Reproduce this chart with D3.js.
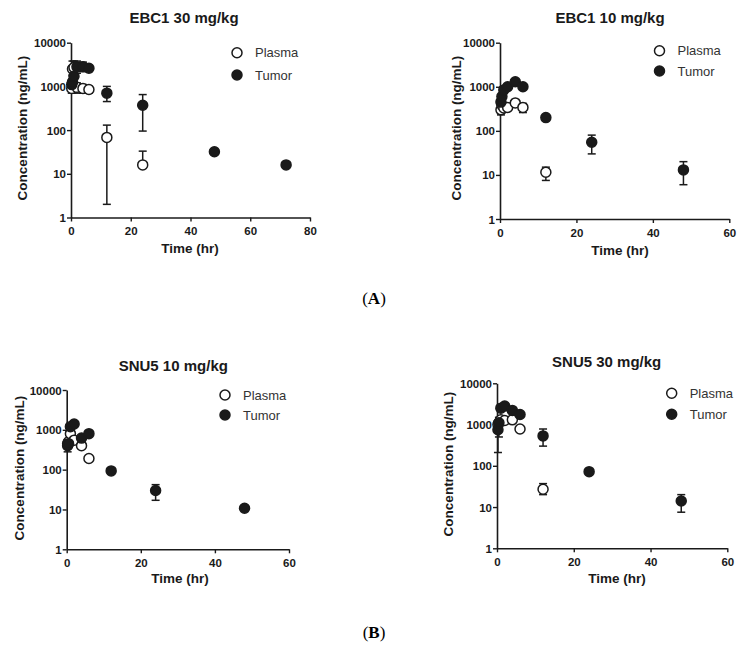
<!DOCTYPE html>
<html><head><meta charset="utf-8">
<script src="https://cdn.jsdelivr.net/npm/d3@7"></script>
<style>body{margin:0;background:#fff}svg{display:block}</style>
</head><body>
<svg id="c" width="748" height="645"></svg>
<script>
// ---------- DATA ----------
const panelTitles = ["EBC1 30 mg/kg", "EBC1 10 mg/kg", "SNU5 10 mg/kg", "SNU5 30 mg/kg"];
const seriesNames = ["Plasma", "Tumor"];
const xMaxes = [80, 60, 60, 60];
const yTickValues = [1, 10, 100, 1000, 10000];

// EBC1 30 mg/kg
const a1PlasmaT  = [0.25, 0.5, 1, 2, 4, 6, 12, 24];
const a1Plasma   = [900, 2500, 2700, 950, 900, 850, 68, 16];
const a1PlasmaLo = [700, 1800, 2000, 700, 700, 700, 2, 16];
const a1PlasmaHi = [1200, 3800, 3800, 1200, 1100, 1000, 130, 33];
const a1TumorT   = [0.25, 0.5, 1, 2, 4, 6, 12, 24, 48, 72];
const a1Tumor    = [1100, 1250, 1700, 2800, 2800, 2600, 700, 370, 32, 16];
const a1TumorLo  = [900, 1000, 1300, 2000, 2200, 2200, 450, 95, 32, 16];
const a1TumorHi  = [1300, 1500, 2200, 3800, 3600, 3000, 1000, 650, 32, 16];

// EBC1 10 mg/kg
const a2PlasmaT  = [0.25, 0.5, 1, 2, 4, 6, 12];
const a2Plasma   = [300, 380, 330, 340, 430, 340, 11.5];
const a2PlasmaLo = [230, 300, 280, 290, 380, 260, 7.5];
const a2PlasmaHi = [380, 450, 390, 390, 480, 420, 15];
const a2TumorT   = [0.25, 0.5, 1, 2, 4, 6, 12, 24, 48];
const a2Tumor    = [450, 600, 850, 1000, 1300, 1000, 200, 55, 13];
const a2TumorLo  = [380, 500, 750, 900, 1200, 900, 180, 30, 6];
const a2TumorHi  = [520, 700, 950, 1100, 1400, 1100, 220, 80, 20];

// SNU5 10 mg/kg
const b1PlasmaT  = [0.25, 0.5, 1, 2, 4, 6];
const b1Plasma   = [450, 500, 800, 550, 400, 190];
const b1PlasmaLo = [380, 430, 700, 480, 350, 170];
const b1PlasmaHi = [520, 580, 900, 620, 450, 210];
const b1TumorT   = [0.25, 0.5, 1, 2, 4, 6, 12, 24, 48];
const b1Tumor    = [400, 450, 1200, 1400, 620, 800, 93, 30, 10.7];
const b1TumorLo  = [280, 380, 1050, 1250, 550, 720, 85, 17, 10];
const b1TumorHi  = [550, 520, 1350, 1550, 700, 880, 100, 42, 11.5];

// SNU5 30 mg/kg
const b2PlasmaT  = [0.25, 0.5, 1, 2, 4, 6, 12];
const b2Plasma   = [1000, 1100, 1300, 1250, 1300, 780, 27];
const b2PlasmaLo = [850, 500, 1100, 1100, 1150, 700, 20];
const b2PlasmaHi = [1150, 1500, 1500, 1400, 1450, 860, 37];
const b2TumorT   = [0.25, 0.5, 1, 2, 4, 6, 12, 24, 48];
const b2Tumor    = [750, 1100, 2500, 2800, 2200, 1750, 530, 72, 14];
const b2TumorLo  = [210, 900, 2200, 2500, 2000, 1600, 300, 65, 7.5];
const b2TumorHi  = [1100, 1300, 2800, 3100, 2400, 1900, 780, 80, 20];

const panelData = [
  {plasma:[a1PlasmaT,a1Plasma,a1PlasmaLo,a1PlasmaHi], tumor:[a1TumorT,a1Tumor,a1TumorLo,a1TumorHi]},
  {plasma:[a2PlasmaT,a2Plasma,a2PlasmaLo,a2PlasmaHi], tumor:[a2TumorT,a2Tumor,a2TumorLo,a2TumorHi]},
  {plasma:[b1PlasmaT,b1Plasma,b1PlasmaLo,b1PlasmaHi], tumor:[b1TumorT,b1Tumor,b1TumorLo,b1TumorHi]},
  {plasma:[b2PlasmaT,b2Plasma,b2PlasmaLo,b2PlasmaHi], tumor:[b2TumorT,b2Tumor,b2TumorLo,b2TumorHi]}
];

// ---------- LAYOUT ----------
const layouts = [
  {x0:71,  x1:310,   yT:42.7,  yB:217.5, title:[184,23],   ylab:[22,128],  xlab:[190,253], leg:[237,52.7,75]},
  {x0:500, x1:729.3, yT:42.7,  yB:219,   title:[610,23],   ylab:[456,128], xlab:[620,255], leg:[659.5,50.7,71]},
  {x0:66.7,x1:289,   yT:390,   yB:549.3, title:[173.3,371],ylab:[19,468],  xlab:[180,583], leg:[225,395,415]},
  {x0:497, x1:727.3, yT:383.3, yB:548.3, title:[606.7,367],ylab:[448,464], xlab:[617,583], leg:[671.7,393.3,414.3]}
];

const svg = d3.select("#c");
const ink = "#1a1a1a";
const font = "'Liberation Sans', Arial, sans-serif";

layouts.forEach((L, i) => {
  const d = panelData[i];
  const g = svg.append("g");
  const x = d3.scaleLinear().domain([0, xMaxes[i]]).range([L.x0, L.x1]);
  const y = d3.scaleLog().domain([1, 10000]).range([L.yB, L.yT]);

  // axes
  const xAx = d3.axisBottom(x).tickValues(d3.range(0, xMaxes[i] + 1, 20)).tickSize(4).tickSizeOuter(0).tickFormat(d3.format("d"));
  const yAx = d3.axisLeft(y).tickValues(yTickValues).tickSize(4).tickSizeOuter(0).tickFormat(d3.format("d"));
  const gx = g.append("g").attr("transform", `translate(0,${L.yB})`).call(xAx);
  const gy = g.append("g").attr("transform", `translate(${L.x0},0)`).call(yAx);
  [gx, gy].forEach(a => {
    a.select(".domain").attr("stroke", ink).attr("stroke-width", 1.6);
    a.selectAll(".tick line").attr("stroke", ink).attr("stroke-width", 1.4);
    a.selectAll("text").attr("fill", ink).attr("font-family", font).attr("font-weight", "bold");
  });
  gx.selectAll("text").attr("dy", "0.95em").attr("font-size", "11.5px");
  gy.selectAll("text").attr("x", -5).attr("dy", "0.35em").attr("font-size", "11.5px");

  // title & labels
  g.append("text").attr("x", L.title[0]).attr("y", L.title[1]).attr("text-anchor", "middle")
    .attr("font-family", font).attr("font-weight", "bold").attr("font-size", "15px").attr("fill", ink).text(panelTitles[i]);
  g.append("text").attr("transform", `translate(${L.ylab[0]},${L.ylab[1]}) rotate(-90)`).attr("text-anchor", "middle")
    .attr("dy", "0.35em").attr("font-family", font).attr("font-weight", "bold").attr("font-size", "13.5px").attr("fill", ink)
    .text("Concentration (ng/mL)");
  g.append("text").attr("x", L.xlab[0]).attr("y", L.xlab[1]).attr("text-anchor", "middle")
    .attr("font-family", font).attr("font-weight", "bold").attr("font-size", "13.5px").attr("fill", ink).text("Time (hr)");

  // series
  const series = [
    {arr: d.plasma, fill: "#fff"},
    {arr: d.tumor, fill: ink}
  ];
  series.forEach(s => {
    const [T, V, Lo, Hi] = s.arr;
    const pts = T.map((t, k) => ({t, v: V[k], lo: Lo[k], hi: Hi[k]}));
    const eb = g.append("g").attr("stroke", ink).attr("stroke-width", 1.5).attr("fill", "none");
    pts.forEach(p => {
      if (p.hi > p.lo) {
        eb.append("line").attr("x1", x(p.t)).attr("x2", x(p.t)).attr("y1", y(p.lo)).attr("y2", y(p.hi));
        [p.lo, p.hi].forEach(v => eb.append("line").attr("x1", x(p.t) - 4).attr("x2", x(p.t) + 4).attr("y1", y(v)).attr("y2", y(v)));
      }
    });
  });
  series.forEach(s => {
    const [T, V] = s.arr;
    g.append("g").selectAll("circle").data(T.map((t, k) => ({t, v: V[k]}))).join("circle")
      .attr("cx", p => x(p.t)).attr("cy", p => y(p.v)).attr("r", 5)
      .attr("fill", s.fill).attr("stroke", ink).attr("stroke-width", 1.5);
  });

  // legend
  seriesNames.forEach((n, k) => {
    const cy = L.leg[1 + k];
    g.append("circle").attr("cx", L.leg[0]).attr("cy", cy).attr("r", 5)
      .attr("fill", k === 0 ? "#fff" : ink).attr("stroke", ink).attr("stroke-width", 1.5);
    g.append("text").attr("x", L.leg[0] + 18).attr("y", cy).attr("dy", "0.35em")
      .attr("font-family", font).attr("font-size", "13px").attr("fill", "#333").text(n);
  });
});

// figure labels
[["A", 298], ["B", 632]].forEach(([t, yy]) => {
  const tx = svg.append("text").attr("x", 374).attr("y", yy).attr("text-anchor", "middle").attr("dy", "0.35em")
    .attr("font-family", "'Liberation Serif', 'Times New Roman', serif").attr("font-size", "17px").attr("fill", "#000");
  tx.append("tspan").text("(");
  tx.append("tspan").attr("font-weight", "bold").text(t);
  tx.append("tspan").text(")");
});
</script>
</body></html>
